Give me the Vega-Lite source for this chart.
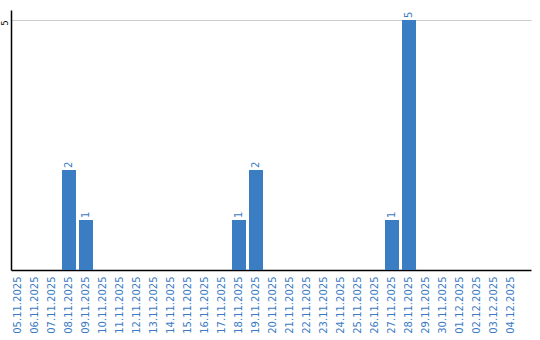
{
  "$schema": "https://vega.github.io/schema/vega-lite/v6.json",
  "width": 520,
  "height": 260,
  "autosize": {"type": "none"},
  "padding": {"left": 11, "top": 10, "right": 9, "bottom": 70},
  "config": {
    "view": {"stroke": null},
    "font": "DejaVu Sans"
  },
  "data": {
    "values": [
      {"date": "05.11.2025", "count": 0},
      {"date": "06.11.2025", "count": 0},
      {"date": "07.11.2025", "count": 0},
      {"date": "08.11.2025", "count": 2},
      {"date": "09.11.2025", "count": 1},
      {"date": "10.11.2025", "count": 0},
      {"date": "11.11.2025", "count": 0},
      {"date": "12.11.2025", "count": 0},
      {"date": "13.11.2025", "count": 0},
      {"date": "14.11.2025", "count": 0},
      {"date": "15.11.2025", "count": 0},
      {"date": "16.11.2025", "count": 0},
      {"date": "17.11.2025", "count": 0},
      {"date": "18.11.2025", "count": 1},
      {"date": "19.11.2025", "count": 2},
      {"date": "20.11.2025", "count": 0},
      {"date": "21.11.2025", "count": 0},
      {"date": "22.11.2025", "count": 0},
      {"date": "23.11.2025", "count": 0},
      {"date": "24.11.2025", "count": 0},
      {"date": "25.11.2025", "count": 0},
      {"date": "26.11.2025", "count": 0},
      {"date": "27.11.2025", "count": 1},
      {"date": "28.11.2025", "count": 5},
      {"date": "29.11.2025", "count": 0},
      {"date": "30.11.2025", "count": 0},
      {"date": "01.12.2025", "count": 0},
      {"date": "02.12.2025", "count": 0},
      {"date": "03.12.2025", "count": 0},
      {"date": "04.12.2025", "count": 0}
    ]
  },
  "encoding": {
    "x": {
      "field": "date",
      "type": "ordinal",
      "sort": null,
      "scale": {"paddingInner": 0.176, "paddingOuter": 0.382, "align": 0},
      "axis": {
        "title": null,
        "labelAngle": -90,
        "labelAlign": "right",
        "labelBaseline": "middle",
        "labelFontSize": 10,
        "labelColor": "#3a7bc4",
        "labelPadding": 6,
        "ticks": false,
        "domainColor": "#000000",
        "domainWidth": 1.5,
        "grid": false,
        "labelOverlap": false
      }
    },
    "y": {
      "field": "count",
      "type": "quantitative",
      "scale": {"domain": [0, 5.2], "nice": false},
      "axis": {
        "title": null,
        "values": [5],
        "labelAngle": -90,
        "labelAlign": "right",
        "labelBaseline": "bottom",
        "labelFontSize": 8,
        "labelColor": "#000000",
        "labelPadding": 2,
        "ticks": false,
        "domainColor": "#000000",
        "domainWidth": 1.5,
        "grid": true,
        "gridColor": "#cccccc",
        "gridWidth": 1
      }
    }
  },
  "layer": [
    {
      "mark": {"type": "bar", "color": "#3a7dc3"}
    },
    {
      "transform": [{"filter": "datum.count > 0"}],
      "mark": {
        "type": "text",
        "angle": -90,
        "align": "left",
        "baseline": "middle",
        "dx": 2,
        "fontSize": 10,
        "color": "#3a7bc4"
      },
      "encoding": {
        "text": {"field": "count", "type": "quantitative"}
      }
    }
  ]
}
